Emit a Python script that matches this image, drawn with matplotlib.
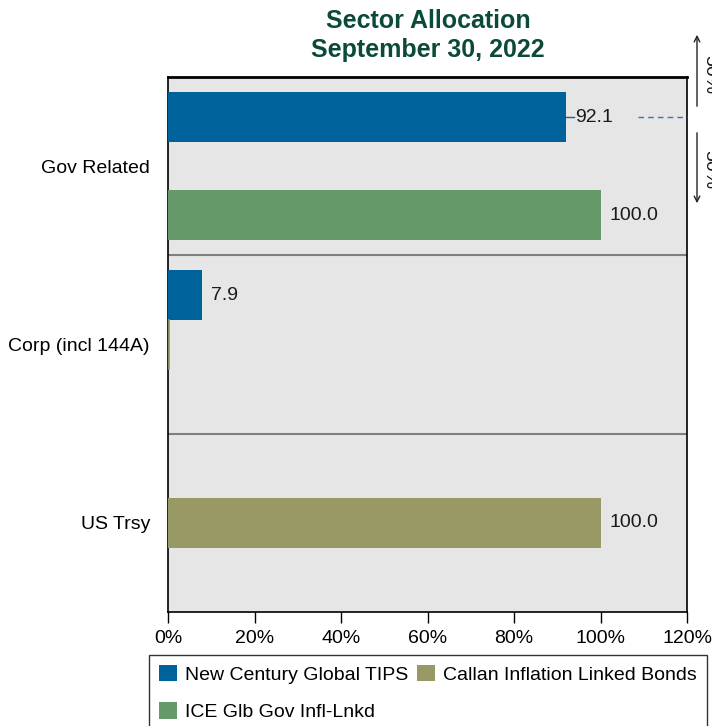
import matplotlib
matplotlib.use("Agg")
import matplotlib.pyplot as plt
import numpy as np
from matplotlib.patches import Patch

plt.rcParams['font.family'] = ['Liberation Sans', 'DejaVu Sans']

# dados
sectors = ["Gov Related", "Corp (incl 144A)", "US Trsy"]
series_names = ["New Century Global TIPS", "Callan Inflation Linked Bonds", "ICE Glb Gov Infl-Lnkd"]
new_century = [92.1, 7.9, None]
callan = [None, 0.0, 100.0]
ice = [100.0, None, None]
x_ticks = [0, 20, 40, 60, 80, 100, 120]

colors = ["#00629b", "#999966", "#66996a"]
bg = "#e6e6e6"
fs = 14

fig = plt.figure(figsize=(7.12, 7.26), dpi=100)
ax = fig.add_axes([168 / 712, 1 - 612 / 726, (687 - 168) / 712, (612 - 77) / 726])
ax.set_facecolor(bg)

offsets = [-0.275, 0.0, 0.275]
bar_h = 0.28
for k, (vals, col) in enumerate(zip([new_century, callan, ice], colors)):
    for i, v in enumerate(vals):
        if v is None:
            continue
        y = i + offsets[k]
        if v == 0:
            ax.plot([0.15, 0.15], [y - bar_h / 2, y + bar_h / 2], color=col, lw=1.2, zorder=3)
            continue
        ax.barh(y, v, height=bar_h, color=col, zorder=3)
        ax.text(v + 2.0, y, f"{v:.1f}", va="center", ha="left", fontsize=fs, color="#1a1a1a", zorder=4)

# separadores entre grupos
for s in range(len(sectors) - 1):
    ax.axhline(s + 0.5, color="#7f7f7f", lw=1.5, zorder=2)

ax.set_ylim(len(sectors) - 0.5, -0.5)
ax.set_xlim(x_ticks[0], x_ticks[-1])
ax.set_yticks(range(len(sectors)))
ax.set_yticklabels(sectors, fontsize=fs)
ax.tick_params(axis="y", length=0, pad=13)
ax.set_xticks(x_ticks)
ax.set_xticklabels([f"{t}%" for t in x_ticks], fontsize=fs)
ax.tick_params(axis="x", length=8, width=1, direction="out", pad=5)
for sp in ax.spines.values():
    sp.set_color("black")
    sp.set_linewidth(1.2)
ax.spines["top"].set_linewidth(2)

# linha tracejada de referencia
yb = 0 + offsets[0]
ax.plot([new_century[0], new_century[0] + 1.8], [yb, yb], color="#1f5f94", lw=1, zorder=4)
ax.plot([108.6, x_ticks[-1]], [yb, yb], color="#2a7ab8", lw=1, ls=(0, (4, 3)), zorder=4, clip_on=False)

# setas 50%
ax_over = fig.add_axes([0, 0, 1, 1], facecolor="none")
ax_over.set_xlim(0, 712)
ax_over.set_ylim(726, 0)
ax_over.axis("off")
ax_over.annotate("", xy=(697, 32), xytext=(697, 109),
                 arrowprops=dict(arrowstyle="->", color="#222222", lw=1))
ax_over.annotate("", xy=(697, 206), xytext=(697, 130),
                 arrowprops=dict(arrowstyle="->", color="#222222", lw=1))
ax_over.text(710, 75, "50%", rotation=270, fontsize=fs, ha="center", va="center", color="#1a1a1a")
ax_over.text(710, 170, "50%", rotation=270, fontsize=fs, ha="center", va="center", color="#1a1a1a")

fig.text(428 / 712, 1 - 21 / 726, "Sector Allocation", ha="center", va="center",
         fontsize=18, fontweight="bold", color="#0b4a3a")
fig.text(428 / 712, 1 - 50 / 726, "September 30, 2022", ha="center", va="center",
         fontsize=18, fontweight="bold", color="#0b4a3a")

handles = [Patch(facecolor=colors[0], label=series_names[0]),
           Patch(facecolor=colors[2], label=series_names[2]),
           Patch(facecolor=colors[1], label=series_names[1])]
leg = fig.legend(handles=handles, ncol=2, loc="upper left",
                 bbox_to_anchor=(149 / 712, 1 - 655 / 726), borderaxespad=0, fontsize=fs,
                 frameon=True, fancybox=False, edgecolor="black",
                 handlelength=0.95, handleheight=0.95, handletextpad=0.4,
                 columnspacing=0.45, labelspacing=0.95, borderpad=0.5)
leg.get_frame().set_linewidth(1)

fig.savefig("out.png", dpi=100)
